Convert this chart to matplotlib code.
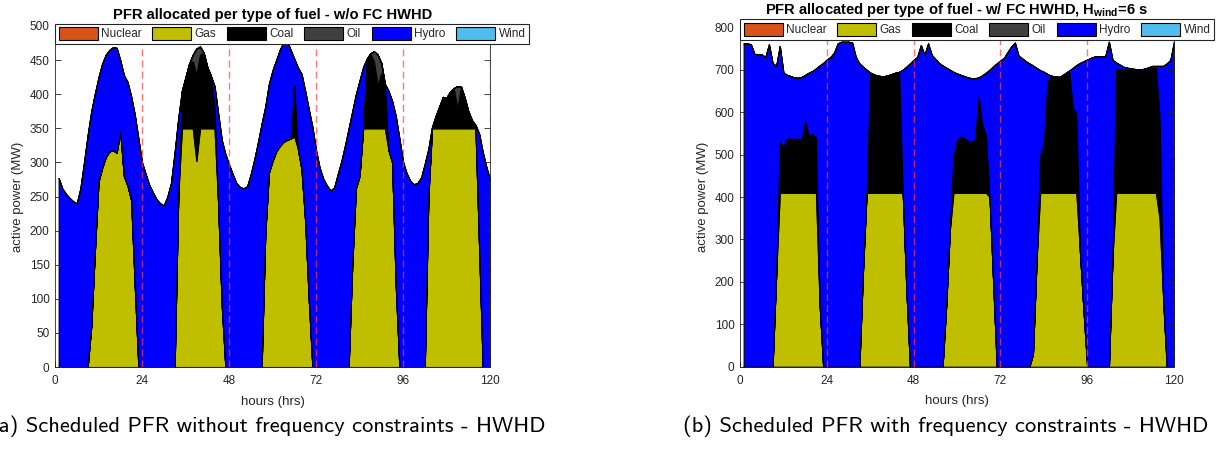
import numpy as np
import matplotlib
matplotlib.use("Agg")
import matplotlib.pyplot as plt

plt.rcParams['font.family'] = ['Liberation Sans', 'DejaVu Sans']
plt.rcParams['mathtext.fontset'] = 'custom'
plt.rcParams['mathtext.rm'] = 'Liberation Sans'
plt.rcParams['mathtext.bf'] = 'Liberation Sans:bold'

# ---------------------------------------------------------------- data
hours = np.arange(1, 121)
fuels = ["Nuclear", "Gas", "Coal", "Oil", "Hydro", "Wind"]
fuel_colors = ["#D95319", "#BFBF00", "#000000", "#404040", "#0000FF", "#4DBEEE"]
day_marks = [24, 48, 72, 96, 120]
x_ticks = [0, 24, 48, 72, 96, 120]

# (a) without frequency constraints, MW per hour
a_nuclear = [0] * 120
a_gas = [
    0, 0, 0, 0, 0, 0, 0, 0, 0, 60, 170, 272, 292, 308, 316, 318, 314, 345, 280, 266, 245, 120, 0, 0,
    0, 0, 0, 0, 0, 0, 0, 0, 0, 250, 350, 350, 350, 350, 302, 350, 350, 350, 350, 350, 240, 90, 0, 0,
    0, 0, 0, 0, 0, 0, 0, 0, 0, 195, 285, 302, 316, 324, 330, 333, 335, 338, 320, 290, 215, 100, 0, 0,
    0, 0, 0, 0, 0, 0, 0, 0, 0, 150, 262, 280, 350, 350, 350, 350, 350, 350, 350, 318, 300, 120, 0, 0,
    0, 0, 0, 0, 0, 0, 250, 350, 350, 350, 350, 350, 350, 350, 350, 350, 350, 350, 350, 350, 175, 0, 0, 0,
]
a_coal = [
    0, 0, 0, 0, 0, 0, 0, 0, 0, 0, 0, 0, 0, 0, 0, 0, 0, 0, 0, 0, 0, 0, 0, 0,
    0, 0, 0, 0, 0, 0, 0, 0, 0, 0, 55, 75, 95, 98, 127, 108, 111, 90, 77, 30, 0, 0, 0, 0,
    0, 0, 0, 0, 0, 0, 0, 0, 0, 0, 0, 0, 0, 0, 0, 0, 0, 75, 0, 0, 0, 0, 0, 0,
    0, 0, 0, 0, 0, 0, 0, 0, 0, 0, 0, 0, 0, 102, 110, 98, 63, 81, 65, 0, 0, 0, 0, 0,
    0, 0, 0, 0, 0, 0, 0, 0, 18, 32, 46, 45, 54, 59, 29, 61, 45, 25, 12, 0, 0, 0, 0, 0,
]
a_oil = [
    0, 0, 0, 0, 0, 0, 0, 0, 0, 0, 0, 0, 0, 0, 0, 0, 0, 0, 0, 0, 0, 0, 0, 0,
    0, 0, 0, 0, 0, 0, 0, 0, 0, 0, 0, 0, 0, 10, 38, 12, 0, 0, 0, 0, 0, 0, 0, 0,
    0, 0, 0, 0, 0, 0, 0, 0, 0, 0, 0, 0, 0, 0, 0, 0, 0, 0, 0, 0, 0, 0, 0, 0,
    0, 0, 0, 0, 0, 0, 0, 0, 0, 0, 0, 0, 0, 0, 0, 15, 45, 15, 0, 0, 0, 0, 0, 0,
    0, 0, 0, 0, 0, 0, 0, 0, 0, 0, 0, 0, 0, 0, 33, 0, 0, 0, 0, 0, 0, 0, 0, 0,
]
a_hydro = [
    277, 262, 254, 248, 243, 240, 262, 300, 340, 315, 231, 153, 153, 150, 149, 151, 154, 105, 148, 152, 152, 250, 335, 300,
    283, 267, 256, 246, 240, 237, 250, 270, 315, 115, 0, 0, 0, 0, 0, 0, 0, 0, 0, 32, 132, 243, 312, 297,
    283, 270, 264, 262, 265, 283, 305, 330, 357, 187, 130, 133, 134, 141, 146, 145, 130, 39, 119, 140, 190, 278, 352, 318,
    292, 276, 266, 259, 263, 283, 302, 325, 350, 225, 138, 140, 90, 0, 0, 0, 0, 0, 0, 87, 90, 248, 335, 301,
    284, 273, 268, 270, 278, 298, 70, 2, 0, 0, 0, 0, 0, 0, 0, 0, 0, 0, 0, 5, 167, 315, 293, 275,
]
a_wind = [0] * 120

# (b) with frequency constraints, H_wind = 6 s, MW per hour
b_nuclear = [0] * 120
b_gas = [
    0, 0, 0, 0, 0, 0, 0, 0, 0, 216, 410, 410, 410, 410, 410, 410, 410, 410, 410, 410, 410, 150, 0, 0,
    0, 0, 0, 0, 0, 0, 0, 0, 0, 225, 410, 410, 410, 410, 410, 410, 410, 410, 410, 410, 410, 182, 0, 0,
    0, 0, 0, 0, 0, 0, 0, 0, 142, 320, 410, 410, 410, 410, 410, 410, 410, 410, 410, 410, 400, 200, 0, 0,
    0, 0, 0, 0, 0, 0, 0, 0, 30, 250, 410, 410, 410, 410, 410, 410, 410, 410, 410, 410, 410, 270, 130, 0,
    0, 0, 0, 0, 0, 0, 260, 410, 410, 410, 410, 410, 410, 410, 410, 410, 410, 410, 410, 350, 160, 0, 0, 0,
]
b_coal = [
    0, 0, 0, 0, 0, 0, 0, 0, 0, 0, 120, 108, 127, 128, 128, 127, 125, 168, 136, 139, 130, 0, 0, 0,
    0, 0, 0, 0, 0, 0, 0, 0, 0, 0, 0, 283, 279, 276, 275, 275, 277, 280, 283, 285, 0, 0, 0, 0,
    0, 0, 0, 0, 0, 0, 0, 0, 0, 0, 85, 124, 133, 128, 122, 120, 126, 227, 160, 135, 0, 0, 0, 0,
    0, 0, 0, 0, 0, 0, 0, 0, 0, 0, 88, 115, 260, 276, 274, 273, 276, 282, 288, 202, 186, 0, 0, 0,
    0, 0, 0, 0, 0, 0, 0, 292, 292, 290, 290, 290, 289, 288, 288, 289, 292, 294, 295, 240, 0, 0, 0, 0,
]
b_oil = [0] * 120
b_hydro = [
    762, 762, 760, 737, 737, 736, 730, 760, 716, 493, 226, 175, 151, 147, 144, 144, 148, 110, 147, 148, 163, 560, 716, 724,
    730, 740, 762, 766, 766, 766, 764, 730, 715, 482, 290, 0, 0, 0, 0, 0, 0, 0, 0, 0, 290, 525, 715, 723,
    730, 758, 735, 762, 735, 725, 716, 710, 563, 380, 200, 157, 145, 147, 150, 150, 144, 45, 117, 148, 300, 508, 715, 722,
    728, 742, 755, 764, 733, 727, 720, 715, 680, 454, 201, 170, 20, 0, 0, 0, 0, 0, 0, 92, 115, 446, 590, 724,
    728, 731, 732, 732, 732, 766, 463, 15, 10, 7, 5, 3, 3, 3, 3, 4, 4, 5, 4, 119, 549, 715, 723, 766,
]
b_wind = [0] * 120

# ---------------------------------------------------------------- figure
W, H = 1224, 451
fig = plt.figure(figsize=(W / 100, H / 100), dpi=100)
ax_a = fig.add_axes([55 / W, (H - 367) / H, 435 / W, 341 / H])
ax_b = fig.add_axes([740 / W, (H - 366.7) / H, 434 / W, 339.4 / H])

text_col = "#262626"


def draw_panel(ax, series, ymax, ystep, title, title_pad, legend_lift):
    polys = ax.stackplot(hours, *series, colors=fuel_colors, labels=fuels,
                         edgecolor="black", linewidth=0.8)
    for d in day_marks:
        ax.axvline(d, color="#FF4040", linestyle=(0, (5, 3)), linewidth=1.0,
                   alpha=0.7, zorder=3)
    ax.set_xlim(0, 120)
    ax.set_ylim(0, ymax)
    ax.set_xticks(x_ticks)
    ax.set_yticks(np.arange(0, ymax + 1, ystep))
    ax.tick_params(direction="in", top=True, right=True, length=4, width=0.6,
                   labelsize=8.5, colors=text_col)
    ax.tick_params(axis="x", pad=6)
    ax.tick_params(axis="y", pad=4)
    for s in ax.spines.values():
        s.set_color(text_col)
        s.set_linewidth(0.6)
    ax.set_xlabel("hours (hrs)", fontsize=9.5, color=text_col, labelpad=6)
    ax.set_ylabel("active power (MW)", fontsize=9.5, color=text_col, labelpad=4)
    ax.set_title(title, fontsize=10.6, fontweight="bold", pad=title_pad)
    leg = ax.legend(handles=polys, ncol=6, loc="upper left",
                    bbox_to_anchor=(0, 1 + legend_lift), borderaxespad=0,
                    fontsize=8.5, handlelength=3.3, handleheight=1.3,
                    handletextpad=0.3, columnspacing=0.9, borderpad=0.3,
                    frameon=True, fancybox=False, framealpha=1,
                    edgecolor=text_col)
    leg.get_frame().set_linewidth(0.8)
    for t in leg.get_texts():
        t.set_color(text_col)


draw_panel(ax_a, [a_nuclear, a_gas, a_coal, a_oil, a_hydro, a_wind], 500, 50,
           "PFR allocated per type of fuel - w/o FC HWHD", 5.0, 2.5 / 341)
draw_panel(ax_b, [b_nuclear, b_gas, b_coal, b_oil, b_hydro, b_wind], 800, 100,
           r"PFR allocated per type of fuel - w/ FC HWHD, H$_{\mathbf{wind}}$=6 s",
           9.5, 8 / 339.4)

cap_font = dict(fontsize=16.2, family=["cmss10", "DejaVu Sans"], ha="center",
                va="center", color="black")
fig.text(268 / W, 1 - 426 / H,
         "(a) Scheduled PFR without frequency constraints - HWHD", **cap_font)
fig.text(946 / W, 1 - 426 / H,
         "(b) Scheduled PFR with frequency constraints - HWHD", **cap_font)

fig.savefig("out.png", dpi=100)
